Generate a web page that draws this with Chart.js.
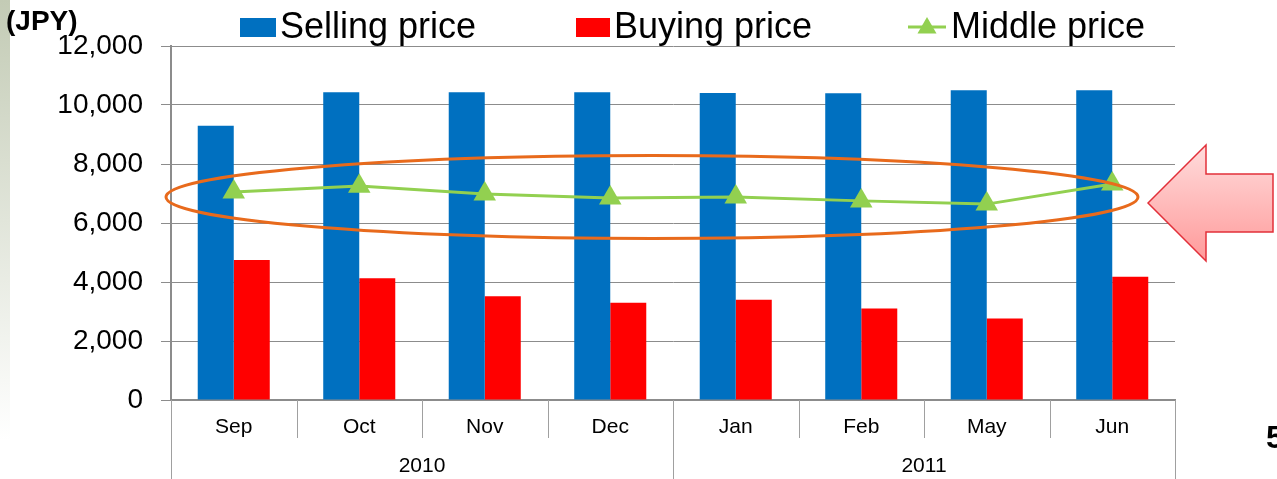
<!DOCTYPE html>
<html><head><meta charset="utf-8">
<script src="https://cdn.jsdelivr.net/npm/chart.js@4/dist/chart.umd.min.js"></script>
<style>html,body{margin:0;padding:0;background:#fff;overflow:hidden}#wrap{position:relative;width:1277px;height:479px}</style>
</head><body><div id="wrap"><canvas id="c" width="1277" height="479"></canvas></div>
<script>
const months = ['Sep','Oct','Nov','Dec','Jan','Feb','May','Jun'];
const years = ['2010','2011'];
const yearSpans = [4,4];
const sellingPrice = [9300,10430,10430,10430,10410,10400,10500,10500];
const buyingPrice = [4750,4130,3520,3300,3400,3100,2760,4180];
const middlePrice = [7050,7250,6980,6850,6880,6750,6640,7320];
const yMin = 0, yMax = 12000, yStep = 2000;
const unitLabel = '(JPY)';
const slideNo = '5';

const FONT = "'Liberation Sans', Arial, sans-serif";
Chart.defaults.font.family = FONT;
Chart.defaults.color = '#000';

const deco = {
  id: 'deco',
  beforeDraw(chart) {
    const ctx = chart.ctx;
    ctx.save();
    ctx.fillStyle = '#fff';
    ctx.fillRect(0, 0, chart.width, chart.height);
    const g = ctx.createLinearGradient(0, 0, 0, 440);
    g.addColorStop(0, '#C3CBB5');
    g.addColorStop(1, '#FFFFFF');
    ctx.fillStyle = g;
    ctx.fillRect(0, 0, 10, chart.height);
    ctx.restore();
  },
  afterDatasetsDraw(chart) {
    const ctx = chart.ctx;
    ctx.save();
    ctx.strokeStyle = '#E86A1C';
    ctx.lineWidth = 3;
    ctx.beginPath();
    ctx.ellipse(652, 197, 486, 41.5, 0, 0, Math.PI * 2);
    ctx.stroke();
    ctx.restore();
  },
  afterDraw(chart) {
    const ctx = chart.ctx;
    const xs = chart.scales.x;
    const bottom = chart.chartArea.bottom;
    ctx.save();
    const n = months.length;
    const cw = xs.width / n;
    ctx.strokeStyle = '#A0A0A0';
    ctx.lineWidth = 1;
    for (let i = 1; i < n; i++) {
      const x = Math.round(xs.left + i * cw) + 0.5;
      ctx.beginPath(); ctx.moveTo(x, bottom); ctx.lineTo(x, bottom + 38); ctx.stroke();
    }
    let idx = 0;
    const bounds = [0];
    yearSpans.forEach(s => { idx += s; bounds.push(idx); });
    bounds.forEach(b => {
      const x = Math.round(xs.left + b * cw) + 0.5;
      ctx.beginPath(); ctx.moveTo(x, bottom); ctx.lineTo(x, chart.height); ctx.stroke();
    });
    ctx.fillStyle = '#000';
    ctx.font = '21px ' + FONT;
    ctx.textAlign = 'center';
    ctx.textBaseline = 'middle';
    years.forEach((y, i) => {
      const cx = xs.left + (bounds[i] + bounds[i + 1]) / 2 * cw;
      ctx.fillText(y, cx, 466);
    });
    ctx.textAlign = 'left';
    ctx.textBaseline = 'alphabetic';
    ctx.font = 'bold 28px ' + FONT;
    ctx.fillText(unitLabel, 6, 30);
    // legend
    const ds = chart.data.datasets;
    ctx.font = '36px ' + FONT;
    ctx.fillStyle = ds[1].backgroundColor;
    ctx.fillRect(240, 18, 36, 19);
    ctx.fillStyle = '#000';
    ctx.fillText(ds[1].label, 280, 38);
    ctx.fillStyle = ds[2].backgroundColor;
    ctx.fillRect(576, 18, 34, 19);
    ctx.fillStyle = '#000';
    ctx.fillText(ds[2].label, 614, 38);
    ctx.strokeStyle = ds[0].borderColor;
    ctx.lineWidth = 3;
    ctx.beginPath(); ctx.moveTo(908, 27); ctx.lineTo(946, 27); ctx.stroke();
    ctx.fillStyle = ds[0].borderColor;
    const r = 11, cx = 927, cy = 28;
    ctx.beginPath();
    ctx.moveTo(cx, cy - r);
    ctx.lineTo(cx + r * 0.866, cy + r * 0.5);
    ctx.lineTo(cx - r * 0.866, cy + r * 0.5);
    ctx.closePath(); ctx.fill();
    ctx.fillStyle = '#000';
    ctx.fillText(ds[0].label, 951, 38);
    // arrow
    const g = ctx.createLinearGradient(0, 145, 0, 261);
    g.addColorStop(0, '#FFDCDC');
    g.addColorStop(1, '#FF9A9A');
    ctx.fillStyle = g;
    ctx.strokeStyle = '#E2303A';
    ctx.lineWidth = 1.5;
    ctx.beginPath();
    ctx.moveTo(1148, 203);
    ctx.lineTo(1206, 145);
    ctx.lineTo(1206, 174);
    ctx.lineTo(1273, 174);
    ctx.lineTo(1273, 232);
    ctx.lineTo(1206, 232);
    ctx.lineTo(1206, 261);
    ctx.closePath();
    ctx.fill(); ctx.stroke();
    ctx.fillStyle = '#000';
    ctx.font = 'bold 32px ' + FONT;
    ctx.fillText(slideNo, 1266, 448);
    ctx.restore();
  }
};

new Chart(document.getElementById('c'), {
  data: {
    labels: months,
    datasets: [
      { type: 'line', label: 'Middle price', data: middlePrice, order: 0,
        borderColor: '#92D050', backgroundColor: '#92D050', borderWidth: 3,
        pointStyle: 'triangle', pointRadius: 13, pointHoverRadius: 13,
        pointBackgroundColor: '#92D050', pointBorderColor: '#92D050', pointBorderWidth: 0,
        tension: 0, fill: false },
      { type: 'bar', label: 'Selling price', data: sellingPrice, order: 1,
        backgroundColor: '#0070C0', borderWidth: 0,
        categoryPercentage: 0.574, barPercentage: 1.0 },
      { type: 'bar', label: 'Buying price', data: buyingPrice, order: 1,
        backgroundColor: '#FF0000', borderWidth: 0,
        categoryPercentage: 0.574, barPercentage: 1.0 }
    ]
  },
  options: {
    responsive: false,
    animation: false,
    devicePixelRatio: 1,
    layout: { padding: { top: 46, right: 102, left: 0, bottom: 0 } },
    plugins: { legend: { display: false }, tooltip: { enabled: false } },
    scales: {
      x: {
        grid: { display: false, drawTicks: false },
        border: { display: true, color: '#8C8C8C', width: 2 },
        ticks: { font: { size: 21 }, color: '#000', padding: 15, maxRotation: 0, autoSkip: false },
        afterFit(s) { s.height = 79; }
      },
      y: {
        min: yMin, max: yMax,
        grid: { color: '#8C8C8C', lineWidth: 1, tickLength: 10, drawTicks: true },
        border: { display: true, color: '#8C8C8C', width: 2 },
        ticks: { stepSize: yStep, font: { size: 28 }, color: '#000', padding: 18,
                 callback: v => v.toLocaleString('en-US') },
        afterFit(s) { s.width = 171; }
      }
    }
  },
  plugins: [deco]
});
</script>
</body></html>
